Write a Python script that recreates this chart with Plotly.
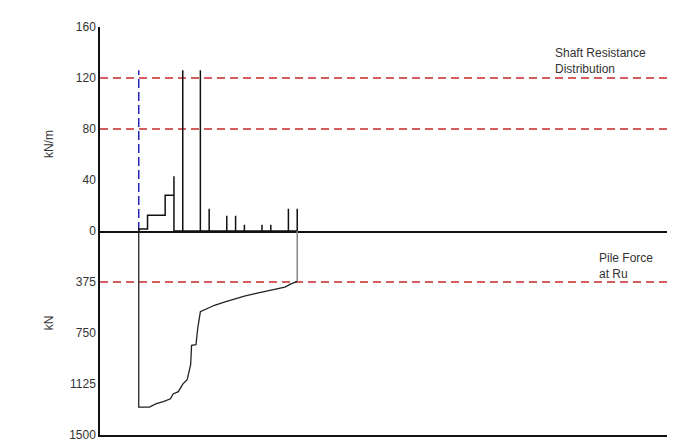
import plotly.graph_objects as go
from plotly.subplots import make_subplots

# ---- data ----
# shaft resistance distribution (kN/m): step segments [start, end, value]
step_start = [0, 1, 3]
step_end = [1, 3, 4]
step_value = [1.5, 12.3, 28]
# spikes (depth index, kN/m)
spike_depth = [4, 5, 7, 8, 10, 11, 12, 14, 15, 17, 18]
spike_value = [43, 126, 126, 17.5, 12, 12, 5, 5, 5, 17.5, 17.5]

# pile force at Ru (kN)
pf_depth = [0, 1.2, 2.0, 2.8, 3.6, 3.9, 4.5, 5.0, 5.5, 5.9, 6.0, 6.5, 6.7, 7.0,
            7.7, 8.6, 9.8, 10.9, 12.0, 13.2, 14.3, 15.4, 16.6, 17.3, 18.0]
pf_force = [1295, 1295, 1270, 1254, 1234, 1198, 1181, 1126, 1094, 981, 841, 836,
            715, 594, 575, 546, 522, 498, 478, 461, 444, 432, 413, 389, 370]

top_ticks = [0, 40, 80, 120, 160]
bot_ticks = [375, 750, 1125, 1500]
top_limits = [80, 120]
bot_limits = [375]
pile_head = 0
pile_head_top = 126

# ---- build shaft path ----
sx, sy = [step_start[0]], [0]
for a, b, v in zip(step_start, step_end, step_value):
    sx += [a, b]
    sy += [v, v]
for i, (d, v) in enumerate(zip(spike_depth, spike_value)):
    if i == 0:
        sx += [d, d]
        sy += [v, 0]
    else:
        sx += [d, d, d]
        sy += [0, v, 0]

fig = make_subplots(rows=2, cols=1, shared_xaxes=True, vertical_spacing=0)

XR = [-4.4, 60]
red = "#c62828"

# red limit lines
for v in top_limits:
    fig.add_trace(go.Scatter(x=XR, y=[v, v], mode="lines",
                             line=dict(color=red, width=1.5, dash="8px,5px"),
                             showlegend=False, hoverinfo="skip"), row=1, col=1)
for v in bot_limits:
    fig.add_trace(go.Scatter(x=XR, y=[v, v], mode="lines",
                             line=dict(color=red, width=1.5, dash="8px,5px"),
                             showlegend=False, hoverinfo="skip"), row=2, col=1)

# blue pile head line
fig.add_trace(go.Scatter(x=[pile_head, pile_head], y=[0, pile_head_top], mode="lines",
                         line=dict(color="#2424b8", width=1.5, dash="9px,4px"),
                         showlegend=False, hoverinfo="skip"), row=1, col=1)

# shaft resistance
fig.add_trace(go.Scatter(x=sx, y=sy, mode="lines",
                         line=dict(color="#111111", width=1.5),
                         showlegend=False), row=1, col=1)

# pile force
fig.add_trace(go.Scatter(x=[pf_depth[0]] + pf_depth, y=[0] + pf_force, mode="lines",
                         line=dict(color="#222222", width=1.3),
                         showlegend=False), row=2, col=1)
fig.add_trace(go.Scatter(x=[pf_depth[-1], pf_depth[-1]], y=[pf_force[-1], 0], mode="lines",
                         line=dict(color="#888888", width=1.5),
                         showlegend=False), row=2, col=1)

font = "Liberation Sans, Arial, sans-serif"
fig.update_xaxes(range=XR, showgrid=False, zeroline=False, showticklabels=False,
                 ticks="", showline=True, linecolor="#111111", linewidth=1.5)
fig.update_yaxes(showgrid=False, zeroline=False, ticks="", showline=True,
                 linecolor="#111111", linewidth=1.5, mirror=True,
                 tickfont=dict(family=font, size=12, color="#333333"))
fig.update_yaxes(range=[0, 160], tickvals=top_ticks, row=1, col=1)
fig.update_yaxes(range=[1500, 0], tickvals=bot_ticks, row=2, col=1)

fig.add_annotation(x=47.0, y=147, xref="x", yref="y", text="Shaft Resistance<br>Distribution",
                   showarrow=False, xanchor="left", yanchor="top", align="left",
                   font=dict(family=font, size=12, color="#333333"))
fig.add_annotation(x=52.1, y=132, xref="x2", yref="y2", text="Pile Force<br>at Ru",
                   showarrow=False, xanchor="left", yanchor="top", align="left",
                   font=dict(family=font, size=12, color="#333333"))
fig.add_annotation(x=-0.106, y=0.752, xref="paper", yref="paper", text="kN/m",
                   textangle=-90, showarrow=False,
                   font=dict(family=font, size=12, color="#333333"))
fig.add_annotation(x=-0.106, y=0.253, xref="paper", yref="paper", text="kN",
                   textangle=-90, showarrow=False,
                   font=dict(family=font, size=12, color="#333333"))

fig.update_layout(width=675, height=446, margin=dict(l=92, r=16, t=18, b=17),
                  paper_bgcolor="white", plot_bgcolor="white")
fig.write_html("out.html")
